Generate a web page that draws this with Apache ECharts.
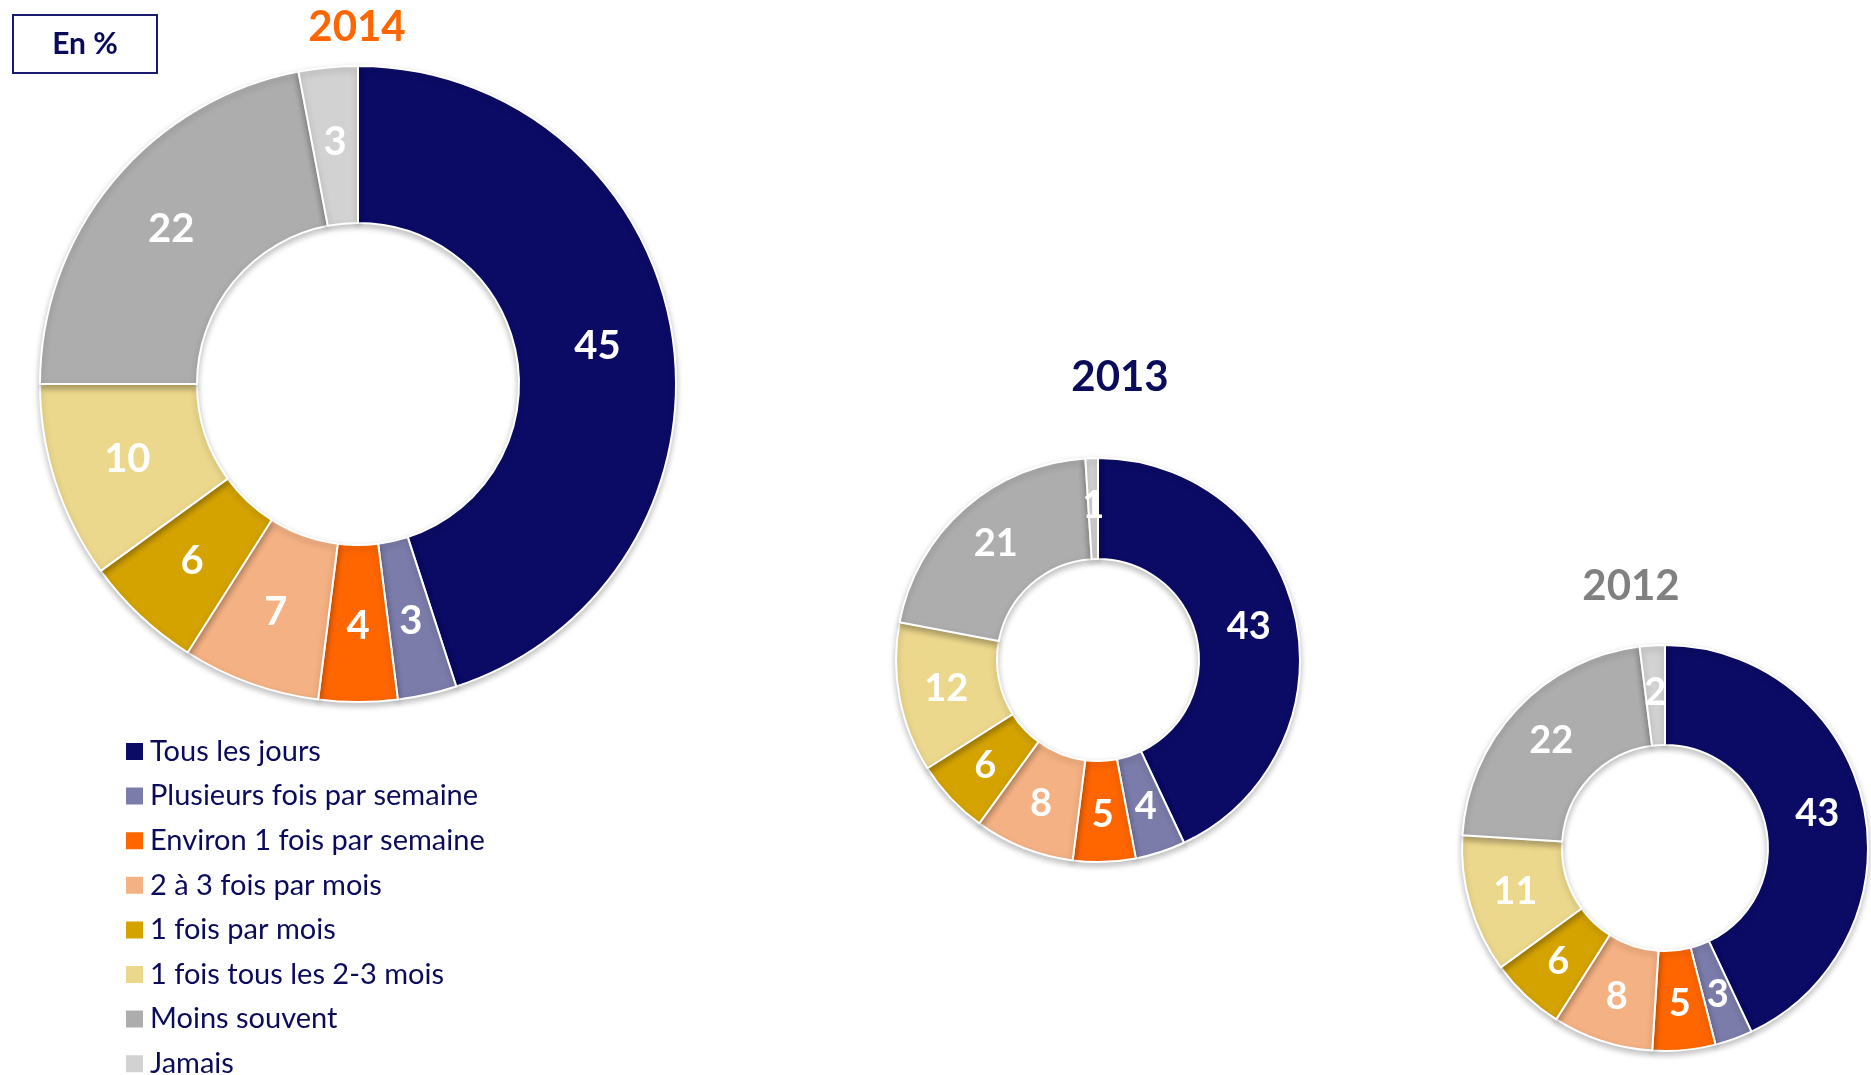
<!DOCTYPE html>
<html>
<head>
<meta charset="utf-8">
<script src="https://cdn.jsdelivr.net/npm/echarts@6/dist/echarts.min.js"></script>
<style>
  html, body { margin: 0; padding: 0; background: #fff; }
  #chart { width: 1871px; height: 1075px; }
</style>
</head>
<body>
<div id="chart"></div>
<script>
// catégories de fréquence
const categories = [
  'Tous les jours',
  'Plusieurs fois par semaine',
  'Environ 1 fois par semaine',
  '2 à 3 fois par mois',
  '1 fois par mois',
  '1 fois tous les 2-3 mois',
  'Moins souvent',
  'Jamais'
];
const years = ['2014', '2013', '2012'];
const values2014 = [45, 3, 4, 7, 6, 10, 22, 3];
const values2013 = [43, 4, 5, 8, 6, 12, 21, 1];
const values2012 = [43, 3, 5, 8, 6, 11, 22, 2];

const colors = ['#0b0b66', '#7c7cab', '#ff6600', '#f4b183', '#d4a300', '#ecd88c', '#adadad', '#d2d2d2'];
const navy = '#0b0b5c';
const font = 'Lato, "Open Sans", sans-serif';

const chart = echarts.init(document.getElementById('chart'));

const toData = vals => vals.map((v, i) => ({ name: categories[i], value: v }));

const donut = (name, vals, center, radius, fontSize) => ({
  name: name,
  type: 'pie',
  center: center,
  radius: radius,
  startAngle: 90,
  clockwise: true,
  avoidLabelOverlap: false,
  itemStyle: {
    borderColor: '#ffffff',
    borderWidth: 2,
    shadowBlur: 6,
    shadowOffsetY: 3,
    shadowColor: 'rgba(0,0,0,0.25)'
  },
  label: {
    show: true,
    position: 'inside',
    formatter: '{c}',
    color: '#ffffff',
    fontFamily: font,
    fontWeight: 'bold',
    fontSize: fontSize
  },
  labelLine: { show: false },
  emphasis: { scale: false },
  data: toData(vals)
});

const titleStyle = color => ({ color: color, fontFamily: font, fontWeight: 'bold', fontSize: 42 });

const option = {
  color: colors,
  animation: false,
  title: [
    { text: years[0], left: 357, top: 6, padding: 0, textAlign: 'center', textStyle: titleStyle('#ff6600') },
    { text: years[1], left: 1120, top: 356, padding: 0, textAlign: 'center', textStyle: titleStyle(navy) },
    { text: years[2], left: 1631, top: 565, padding: 0, textAlign: 'center', textStyle: titleStyle('#808080') }
  ],
  graphic: [
    {
      type: 'rect',
      shape: { x: 13, y: 15, width: 144, height: 58 },
      style: { fill: '#fff', stroke: '#1a1a6e', lineWidth: 2 }
    },
    {
      type: 'text',
      x: 85, y: 44,
      style: {
        text: 'En %', fill: navy, font: 'bold 30px ' + font,
        align: 'center', verticalAlign: 'middle'
      }
    }
  ],
  legend: {
    orient: 'vertical',
    left: 124,
    top: 737,
    height: 400,
    padding: 0,
    icon: 'rect',
    itemWidth: 19,
    itemHeight: 19,
    itemGap: 15.6,
    selectedMode: false,
    data: categories,
    textStyle: {
      color: navy,
      fontFamily: font,
      fontSize: 29,
      padding: [0, 0, 0, 1]
    }
  },
  series: [
    donut(years[0], values2014, [358, 384], [161, 318], 40),
    donut(years[1], values2013, [1098, 660], [101, 202], 38),
    donut(years[2], values2012, [1665, 848], [103, 203], 38)
  ]
};

chart.setOption(option);
</script>
</body>
</html>
